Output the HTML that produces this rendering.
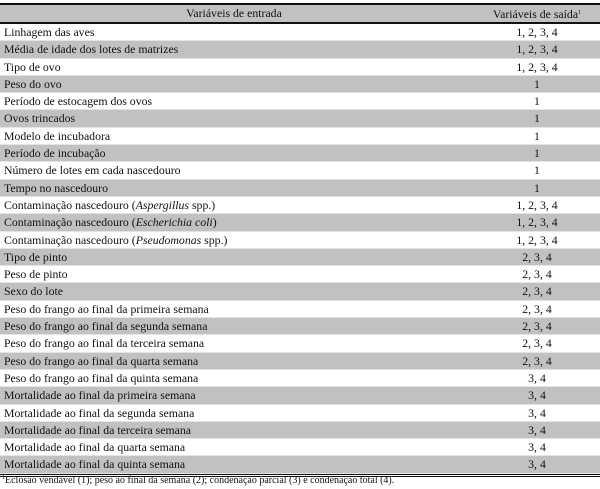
<!DOCTYPE html>
<html><head><meta charset="utf-8"><style>
body{margin:0;width:600px;height:489px;background:#fff;font-family:"Liberation Serif","Times New Roman",serif;font-size:11.8px;color:#111;position:relative;overflow:hidden}
.t{position:absolute;left:0;top:3px;width:600px;border-top:2px solid #111}
.r{height:17.3px;line-height:17.3px;position:relative;border-bottom:0.5px solid #e4e4e4;box-sizing:border-box}
.g{background:#c3c1c0}
.a{position:absolute;left:4px}
.b{position:absolute;left:475px;width:124px;text-align:center}
.h{height:17px;line-height:17px;background:#c3c1c0;border-bottom:2px solid #111;box-sizing:content-box}
.h .a{left:0;width:468px;text-align:center}
sup{font-size:6px;vertical-align:4px}
.end{border-top:3px double #111}
.fn{position:absolute;left:2px;top:475px;font-size:10px}
</style></head><body>
<div class="t">
<div class="r h"><span class="a">Variáveis de entrada</span><span class="b">Variáveis de saída<sup>1</sup></span></div>
<div id="rows"></div>
<div class="end"></div>
</div>
<div class="fn"><sup>1</sup>Eclosão vendável (1); peso ao final da semana (2); condenação parcial (3) e condenação total (4).</div>
<script>
const inputs=["Linhagem das aves","Média de idade dos lotes de matrizes","Tipo de ovo","Peso do ovo","Período de estocagem dos ovos","Ovos trincados","Modelo de incubadora","Período de incubação","Número de lotes em cada nascedouro","Tempo no nascedouro","Contaminação nascedouro (<i>Aspergillus</i> spp.)","Contaminação nascedouro (<i>Escherichia coli</i>)","Contaminação nascedouro (<i>Pseudomonas</i> spp.)","Tipo de pinto","Peso de pinto","Sexo do lote","Peso do frango ao final da primeira semana","Peso do frango ao final da segunda semana","Peso do frango ao final da terceira semana","Peso do frango ao final da quarta semana","Peso do frango ao final da quinta semana","Mortalidade ao final da primeira semana","Mortalidade ao final da segunda semana","Mortalidade ao final da terceira semana","Mortalidade ao final da quarta semana","Mortalidade ao final da quinta semana"];
const outputs=["1, 2, 3, 4","1, 2, 3, 4","1, 2, 3, 4","1","1","1","1","1","1","1","1, 2, 3, 4","1, 2, 3, 4","1, 2, 3, 4","2, 3, 4","2, 3, 4","2, 3, 4","2, 3, 4","2, 3, 4","2, 3, 4","2, 3, 4","3, 4","3, 4","3, 4","3, 4","3, 4","3, 4"];
const c=document.getElementById('rows');
inputs.forEach((s,i)=>{
const r=document.createElement('div');
r.className='r'+(i%2?' g':'');


const a=document.createElement('span');a.className='a';a.innerHTML=s;


const b=document.createElement('span');b.className='b';b.textContent=outputs[i];


r.appendChild(a);r.appendChild(b);c.appendChild(r);
});
</script>
</body></html>
